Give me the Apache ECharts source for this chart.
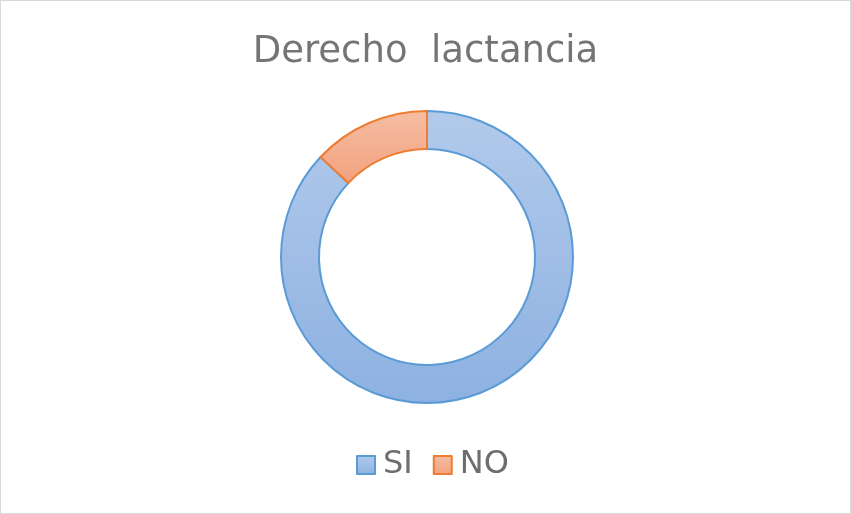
<!DOCTYPE html>
<html><head><meta charset="utf-8">
<script src="https://cdn.jsdelivr.net/npm/echarts@6/dist/echarts.min.js"></script>
<style>html,body{margin:0;padding:0;background:#fff}#c{width:851px;height:514px;box-sizing:border-box;border:1px solid #D9D9D9}</style>
</head><body><div id="c"></div>
<script>
const categories = ['SI', 'NO'];
const values = [87, 13];
const title = 'Derecho  lactancia';
const fills = [
  [{offset:0,color:'#B2CAEB'},{offset:1,color:'#8DB1E1'}],
  [{offset:0,color:'#F6BDA3'},{offset:1,color:'#F2A27E'}]
];
const borders = ['#5B9BD5', '#ED7D31'];
const chart = echarts.init(document.getElementById('c'));
chart.setOption({
  animation:false,
  title:{text:title,left:'center',top:28,textStyle:{fontFamily:'DejaVu Sans',fontSize:37,fontWeight:'normal',color:'#757575'}},
  legend:{bottom:32,left:355,padding:0,itemWidth:18,itemHeight:18,itemGap:20,icon:'rect',
    textStyle:{fontFamily:'DejaVu Sans',fontSize:32,color:'#6E6E6E',padding:[0,0,0,3]},
    data:categories},
  series:[{type:'pie',radius:[108,146],center:[426,256],startAngle:90,clockwise:true,
    label:{show:false},labelLine:{show:false},
    data:categories.map((c,i)=>({name:c,value:values[i],
      itemStyle:{color:new echarts.graphic.LinearGradient(0,0,0,1,fills[i]),borderColor:borders[i],borderWidth:2}}))
  }]
});
</script></body></html>
